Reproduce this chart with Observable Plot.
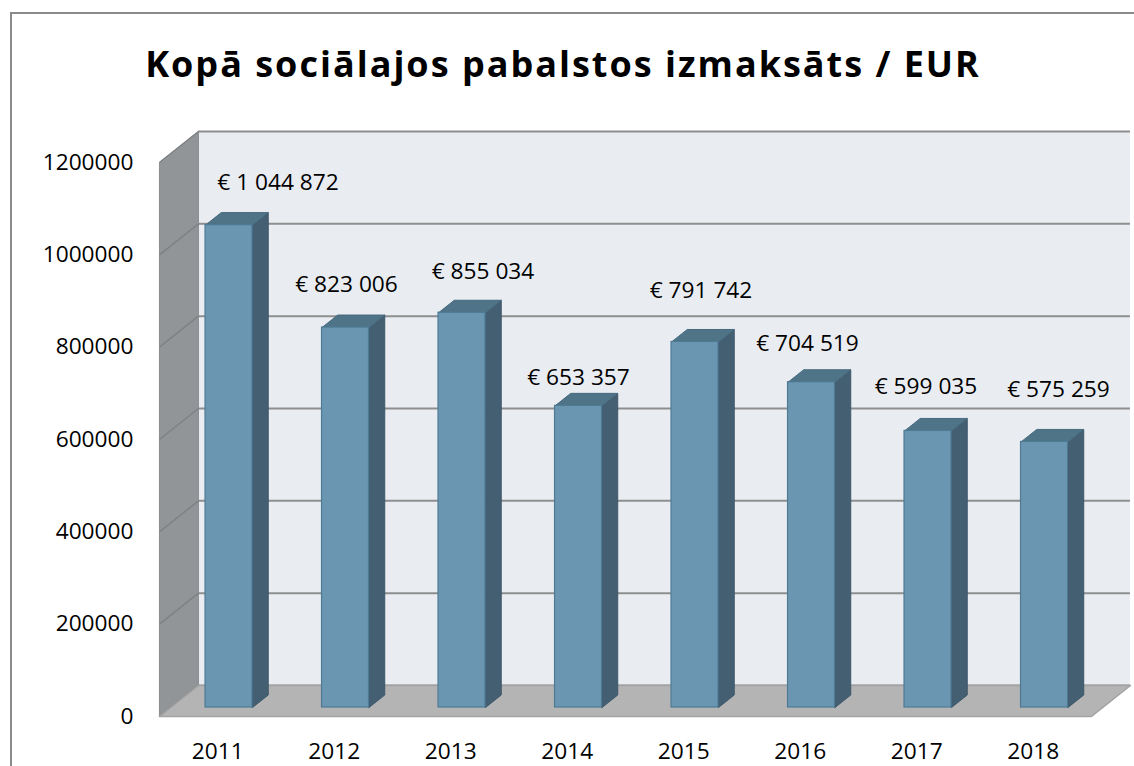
<!DOCTYPE html>
<html>
<head>
<meta charset="utf-8">
<script src="https://cdn.jsdelivr.net/npm/d3@7"></script>
<script src="https://cdn.jsdelivr.net/npm/@observablehq/plot@0.6"></script>
<style>
  html, body { margin: 0; padding: 0; background: #fff; overflow: hidden; }
  body { width: 1134px; height: 766px; position: relative; font-family: "Open Sans", sans-serif; }
  #frame { position: absolute; left: 10px; top: 12px; width: 1200px; height: 800px; border: 2px solid #8a8a8a; box-sizing: border-box; }
  #title { position: absolute; left: 0; top: 46px; width: 1126px; text-align: center; font-weight: 700; font-size: 36px; line-height: 36px; letter-spacing: 2px; color: #000; white-space: nowrap; }
  #chart { position: absolute; left: 0; top: 110px; }
</style>
</head>
<body>
<div id="frame"></div>
<div id="title">Kopā sociālajos pabalstos izmaksāts / EUR</div>
<div id="chart"></div>
<script>
// ---- data ----
const years = ["2011", "2012", "2013", "2014", "2015", "2016", "2017", "2018"];
const values = [1044872, 823006, 855034, 653357, 791742, 704519, 599035, 575259];
const yTicks = [0, 200000, 400000, 600000, 800000, 1000000, 1200000];

// ---- layout (pixel nudges for value labels, as placed in the original) ----
const labelNudge = [[49, -42], [1, -43], [21, -41], [0, -28], [6, -51], [-4, -39], [-2, -44], [14, -52]];

// ---- 3D projection helpers ----
const slotPx = 116.5;               // px per category
const unitPx = 554 / 1200000;       // px per EUR on front plane
const Dx = 39 / slotPx;             // depth shift (x, in slots)
const Dy = 31 / unitPx;             // depth shift (y, in EUR)
const t0 = 9 / 31, t1 = 21.5 / 31;  // bar front / back depth
const hw = 23.5 / slotPx;           // bar half width
const xL = -0.5, xR = 7.5, yTop = 1200000;

const idx = d3.range(years.length);
const fmt = v => "€ " + d3.format(",")(v).replace(/,/g, " ");

function poly(id, pts) { return pts.concat([pts[0]]).map(([x, y]) => ({id, x, y})); }

const leftWall = poly("lw", [[xL, 0], [xL, yTop], [xL + Dx, yTop + Dy], [xL + Dx, Dy]]);
const floor = poly("fl", [[xL, 0], [xL + Dx, Dy], [xR + Dx, Dy], [xR, 0]]);

const sides = [], tops = [];
idx.forEach(i => {
  const v = values[i];
  const cx = i + t0 * Dx;
  const xl = cx - hw, xr = cx + hw;
  const ddx = (t1 - t0) * Dx, ddy = (t1 - t0) * Dy;
  const yb = t0 * Dy, yt = v + t0 * Dy;
  sides.push(...poly("s" + i, [[xr, yb], [xr, yt], [xr + ddx, yt + ddy], [xr + ddx, yb + ddy]]));
  tops.push(...poly("t" + i, [[xl, yt], [xl + ddx, yt + ddy], [xr + ddx, yt + ddy], [xr, yt]]));
});

const fronts = idx.map(i => ({
  x1: i + t0 * Dx - hw, x2: i + t0 * Dx + hw, y1: t0 * Dy, y2: values[i] + t0 * Dy
}));

const svgTop = 110;
const labelMarks = idx.map(i => Plot.text([i], {
  x: d => d + t0 * Dx,
  y: d => values[d] + t0 * Dy,
  text: d => fmt(values[d]),
  dx: labelNudge[i][0],
  dy: labelNudge[i][1],
  textAnchor: "middle",
  lineAnchor: "middle",
  fill: "#000",
  fontSize: 22.7
}));

const chart = Plot.plot({
  width: 1134,
  height: 656,
  marginLeft: 159,
  marginBottom: 30,
  marginTop: 0,
  marginRight: 0,
  x: { type: "linear", domain: [0, 7], range: [217.2, 217.2 + 7 * slotPx] },
  y: { type: "linear", domain: [0, yTop], range: [716 - svgTop, 162 - svgTop] },
  style: { fontFamily: "'Open Sans', sans-serif", fontSize: "22.7px", color: "#000", background: "transparent", overflow: "visible" },
  marks: [
    Plot.rect([0], { x1: () => xL + Dx, x2: () => xR + Dx, y1: () => Dy, y2: () => yTop + Dy, fill: "#e9edf2" }),
    Plot.ruleY(yTicks, { y: d => d + Dy, x1: () => xL + Dx, x2: () => xR + Dx, stroke: "#8e8e8e", strokeWidth: 2 }),
    Plot.line(leftWall, { x: "x", y: "y", z: "id", fill: "#929598", stroke: "#8a8d90", strokeWidth: 1 }),
    Plot.link(yTicks, { x1: () => xL, y1: d => d, x2: () => xL + Dx, y2: d => d + Dy, stroke: "#7f8285", strokeWidth: 1.5 }),
    Plot.line(floor, { x: "x", y: "y", z: "id", fill: "#b4b4b4", stroke: "#a2a2a2", strokeWidth: 1.5 }),
    Plot.line(sides, { x: "x", y: "y", z: "id", fill: "#445f72", stroke: "#3e586a", strokeWidth: 1 }),
    Plot.line(tops, { x: "x", y: "y", z: "id", fill: "#4f7387", stroke: "#466a7f", strokeWidth: 1 }),
    Plot.rect(fronts, { x1: "x1", x2: "x2", y1: "y1", y2: "y2", fill: "#6a96b1", stroke: "#4e7a94", strokeWidth: 1.2 }),
    Plot.axisY({ ticks: yTicks, tickFormat: d3.format("d"), tickSize: 0, tickPadding: 26, anchor: "left", label: null, fontSize: 22.7 }),
    Plot.axisX({ ticks: idx, tickFormat: i => years[i], tickSize: 0, tickPadding: 6, anchor: "bottom", label: null, fontSize: 22.7 }),
    ...labelMarks
  ]
});
document.getElementById("chart").appendChild(chart);
</script>
</body>
</html>
